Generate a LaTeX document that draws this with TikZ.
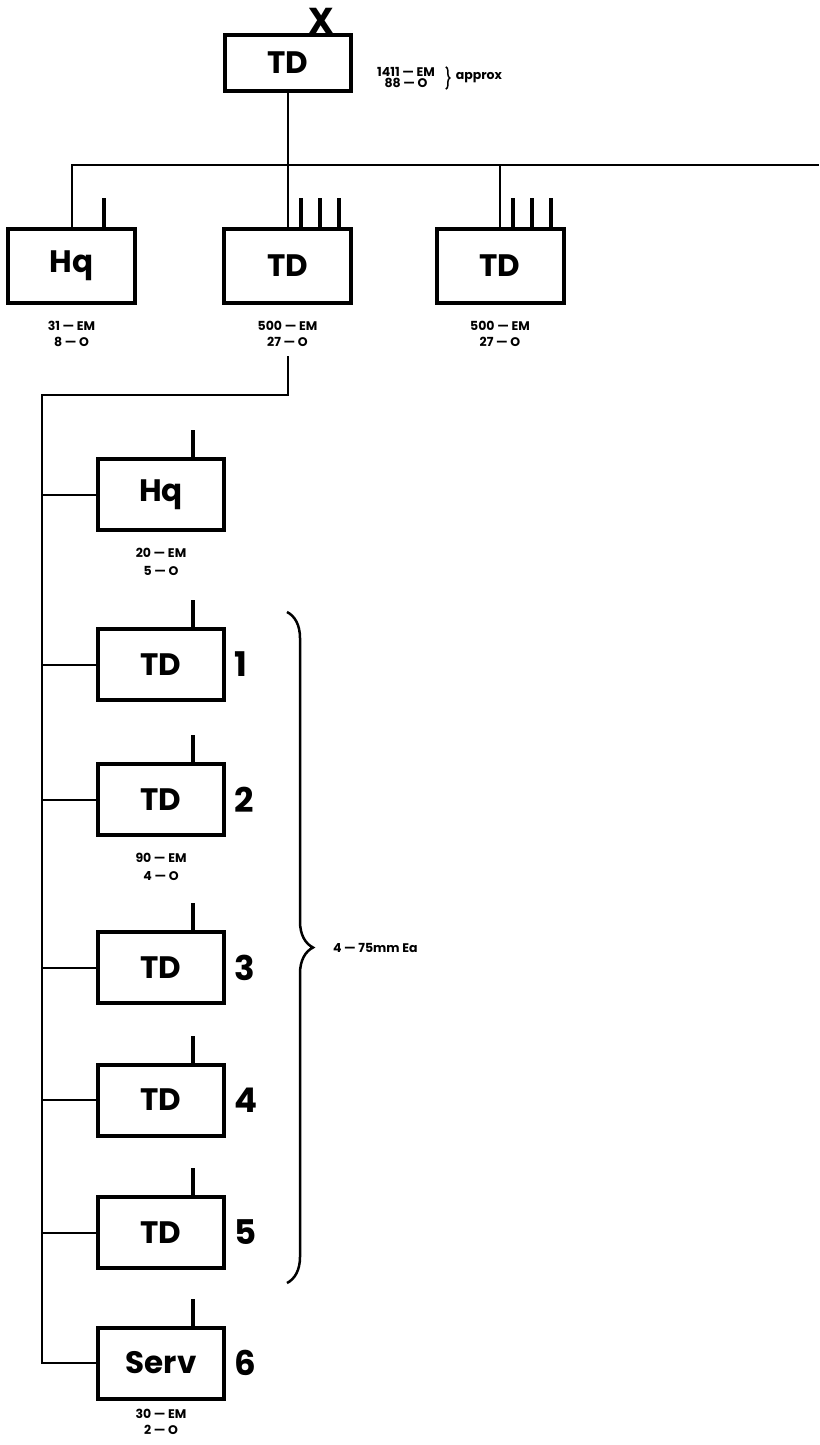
\documentclass[tikz,border=0pt]{standalone}
\usepackage{fontspec}
\setmainfont{Poppins}
\usetikzlibrary{positioning, decorations.pathreplacing}
\tikzset{
  every picture/.style={x=1pt, y=-1pt, line width=2pt},
  unit/.style={draw, line width=4pt, inner sep=0pt, minimum width=126pt, minimum height=71pt,
    font=\bfseries\fontsize{31}{31}\selectfont},
  stub/.style={line width=4pt},
  wire/.style={line width=2pt},
  strength/.style={font=\bfseries\fontsize{12.5}{#1}\selectfont, align=center, inner sep=0pt},
  strength/.default=16,
  number/.style={font=\bfseries\fontsize{34}{34}\selectfont, inner sep=0pt},
  note/.style={font=\bfseries\fontsize{12.5}{11}\selectfont, inner sep=0pt},
}

\begin{document}
\begin{tikzpicture}
  \useasboundingbox (0,0) rectangle (819,1445);
  % the unit at the top
  \node[unit, minimum height=56pt] (top) at (288,63) {TD};
  \node[font=\bfseries\fontsize{36}{36}\selectfont, inner sep=0pt, anchor=south] (cut) at (321,35) {X};
  \node[note, align=center] (toplab) at (406,78) {1411 — EM\\88 — O};
  \draw[line width=1.5pt, decorate, decoration={brace, amplitude=4pt}]
    ([xshift=10pt]toplab.north east) -- ([xshift=10pt]toplab.south east);
  \node[note, right=19pt of toplab] (approx) {approx};
  % second row, hung from one bus
  \coordinate (busend) at (819,165);
  \node[unit, minimum width=127pt, minimum height=74pt] (hqa) at (71.5,266) {Hq};
  \node[unit, minimum width=127pt, minimum height=74pt] (tda) at (287.5,266) {TD};
  \node[unit, minimum width=127pt, minimum height=74pt] (tdb) at (500,266) {TD};
  \draw[wire] (hqa.north) |- (busend);
  \draw[wire] (top.south) -- (top.south |- busend);
  \draw[wire] (tda.north) -- (tda.north |- busend);
  \draw[wire] (tdb.north) -- (tdb.north |- busend);
  \draw[stub] ([xshift=32.5pt]hqa.north) -- ++(0,-29);
  \foreach \u in {tda, tdb}
    \foreach \dx in {13, 32, 51}
      \draw[stub] ([xshift=\dx pt]\u.north) -- ++(0,-29);
  \node[strength, below=15pt of hqa] (hqalab) {31 — EM\\8 — O};
  \node[strength, below=15pt of tda] (tdalab) {500 — EM\\27 — O};
  \node[strength, below=15pt of tdb] (tdblab) {500 — EM\\27 — O};
  % the column under the middle TD
  \coordinate (trunk) at (42,395);
  \node[unit] (hqb) at (161,494.5) {Hq};
  \draw[stub] ([xshift=32pt]hqb.north) -- ++(0,-27);
  \draw[wire] (trunk |- hqb.west) -- (hqb.west);
  \node[strength=18, below=15pt of hqb] (hqblab) {20 — EM\\5 — O};
  \foreach \i/\txt/\y in {1/TD/664.5, 2/TD/799.5, 3/TD/967.5, 4/TD/1100, 5/TD/1232.5, 6/Serv/1363} {
    \node[unit] (u\i) at (161,\y) {\txt};
    \node[number, right=7pt of u\i] (n\i) {\i};
    \draw[stub] ([xshift=32pt]u\i.north) -- ++(0,-27);
    \draw[wire] (trunk |- u\i.west) -- (u\i.west);
  }
  \draw[wire] ([yshift=-9pt]tdalab.south) |- (trunk) |- (u6.west);
  \node[strength=18, below=15pt of u2] (u2lab) {90 — EM\\4 — O};
  \node[strength, below=8pt of u6] (u6lab) {30 — EM\\2 — O};
  % brace over units 1 to 5
  \coordinate (bracetop) at (287,612);
  \coordinate (bracebot) at (287,1283);
  \draw[line width=2.5pt, decorate, decoration={brace, amplitude=26pt}] (bracetop) -- (bracebot);
  \node[note, anchor=west] (each) at (332,947.5) {4 — 75mm Ea};
\end{tikzpicture}
\end{document}
